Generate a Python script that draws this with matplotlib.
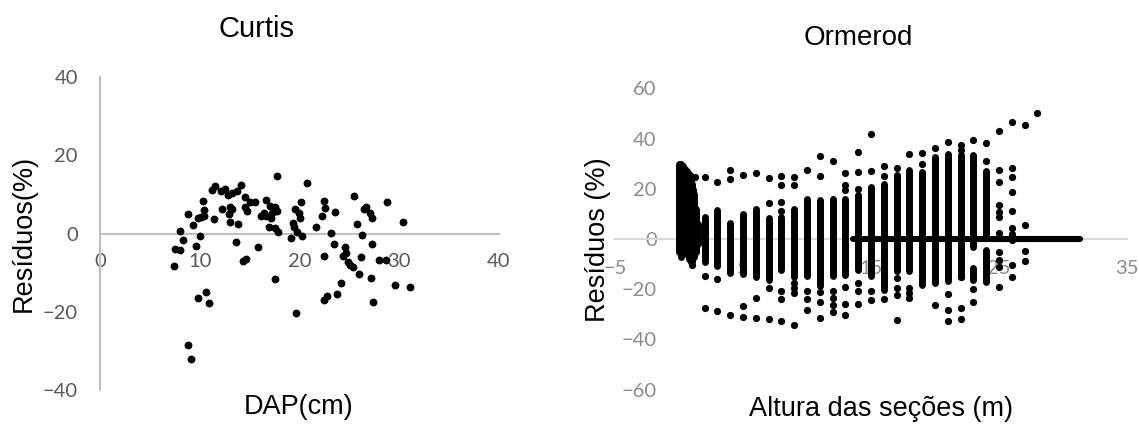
import matplotlib
matplotlib.use('Agg')
import matplotlib.pyplot as plt

# Curtis - residuos (%) x DAP (cm)
curtis_dap = [7.4, 7.5, 8.0, 8.0, 8.3, 8.8, 8.8, 9.1, 9.3, 9.6, 9.8, 9.8, 10.0, 10.1,
              10.3, 10.4, 10.4, 10.6, 10.9, 11.2, 11.4, 11.5, 12.1, 12.2, 12.5, 12.8,
              12.9, 13.0, 13.0, 13.2, 13.2, 13.6, 13.7, 13.8, 14.1, 14.3, 14.6, 14.5,
              14.5, 14.7, 15.0, 15.5, 15.8, 16.1, 16.4, 16.6, 16.6, 16.9, 17.0, 17.1,
              17.2, 17.5, 17.5, 17.5, 17.7, 17.7, 17.8, 19.1, 19.3, 19.4, 19.5, 19.6,
              19.7, 19.9, 20.0, 20.2, 20.3, 20.8, 21.7, 22.3, 22.5, 22.6, 22.5, 22.5,
              22.8, 23.2, 23.5, 23.6, 23.8, 24.2, 24.4, 24.6, 24.7, 24.9, 25.1, 25.4,
              25.5, 25.8, 26.0, 26.2, 26.3, 26.5, 26.7, 27.1, 27.2, 27.3, 27.3, 27.4,
              28.0, 28.7, 28.8, 29.6, 30.4, 31.1]
curtis_res = [-8.2, -3.8, -4.2, 0.8, -1.5, 5.0, -28.3, -32.0, 2.2, -3.2, -16.3, 3.9, -0.6, 4.2,
              8.3, 6.1, 4.4, -15.0, -17.6, 11.2, 3.7, 12.2, 10.9, 6.2, 11.4, 9.9,
              5.0, 6.9, 2.9, 6.2, 10.5, -2.2, 10.8, 2.5, 12.5, -7.0, -6.4, 9.3,
              6.9, 5.9, 8.1, 8.1, -3.5, 4.4, 5.4, 8.6, 4.4, 1.6, 7.1, 3.9,
              5.2, 6.9, -11.5, 1.4, 14.8, 5.9, 0.5, -1.0, 2.8, 1.8, 6.2, -20.2,
              0.5, 5.2, 3.9, 8.2, -0.5, 12.9, 1.8, 4.5, 8.4, 6.5, -5.6, -16.8,
              -15.8, 0.1, -2.6, 5.5, -15.5, -12.7, -5.6, -3.3, -5.0, -7.2, -8.0, -8.6,
              9.7, 2.4, -10.4, -6.0, -0.4, 6.2, 6.7, 5.2, -11.4, -2.6, 4.1, -17.4,
              -6.6, -6.6, 8.2, -13.2, 2.9, -13.7]

# Ormerod - residuos (%) x altura das secoes (m)
# faixas densas de pontos em cada altura (inicio e fim da pilha)
orm_col_x = [0.0, 0.15, 0.3, 0.45, 0.6, 0.75, 0.9, 1.05, 1.2, 1.35, 1.5,
             2, 3, 4, 5, 6, 7, 8, 9, 10, 11, 12, 13, 14, 15, 16, 17, 18, 19,
             20, 21, 22, 23, 23, 24, 24]
orm_col_lo = [-5, -7, -6, -5, -6, -8, -9, -9, -7, -5, -2,
              -9.0, -10.9, -13.6, -14.0, -15.0, -16.2, -12.3, -15.0, -14.9, -18.8, -14.9,
              -14.5, -12.3, -14.9, -20.2, -12.9, -12.9, -18.5,
              -17.5, -16.8, -15.3, -3.0, -16.3, 1.0, -17.0]
orm_col_hi = [30, 30, 29, 28, 27, 26, 25, 22, 18, 12, 6,
              8.8, 11.5, 6.2, 10.0, 12.0, 8.3, 8.8, 12.1, 16.1, 15.4, 16.1,
              16.0, 17.4, 20.7, 22.0, 25.3, 27.3, 26.7,
              32.7, 34.0, 33.5, 33.5, -11.6, 27.2, -4.4]

# pontos isolados
orm_pt_x = [1.25, 1.1, 1.0,
            2, 2, 2, 3, 3, 3, 4, 4, 4, 5, 5, 5, 6, 6, 6,
            7, 7, 7, 7, 8, 8, 8, 8, 8, 8, 8,
            9, 9, 9, 9, 9, 9, 10, 10, 10, 10, 11, 11, 11, 11, 11,
            12, 12, 12, 12, 12, 13, 13, 13, 13, 13, 13,
            14, 14, 14, 14, 14, 14, 15, 15, 15, 15, 16, 16, 16,
            17, 17, 17, 17, 17, 18, 18, 18, 18, 19, 19,
            20, 20, 21, 21, 21, 21, 22, 22, 22, 22, 22, 23, 23, 23, 24, 24,
            25, 25, 25, 25, 25, 25, 25, 25, 25, 25, 25,
            26, 26, 26, 26, 26, 26, 26, 26, 26, 26,
            27, 27, 27, 27, 28]
orm_pt_y = [24.5, 19.4, -10.3,
            24.6, -14.9, -27.4, 22.6, -16.0, -28.7, 27.3, 23.7, -30.4, 25.3, -26.7, -31.2, 26.2, -23.3, -31.6,
            24.1, 14.4, -19.4, -32.0, 24.9, 21.5, 14.8, 11.2, -20.7, -23.9, -32.6,
            24.6, 21.6, -17.5, -19.6, -21.5, -34.4, 27.3, -20.8, -23.8, -28.1, 33.2, 24.9, -21.2, -25.2, -31.4,
            31.0, -20.6, -23.4, -26.1, -29.1, 26.2, 21.5, 19.4, -19.2, -25.8, -30.4,
            34.5, 26.6, 20.0, -17.5, -20.8, -25.7, 42.0, 27.0, -20.8, -24.4, 28.9, 24.9, -24.0,
            28.3, -15.5, -19.4, -22.1, -32.4, 33.9, -19.4, -21.4, -23.4, 34.3, 30.0,
            36.4, -26.3, 38.8, -21.9, -28.3, -32.5, 37.5, 35.5, -27.6, -32.0, -15.3, 39.4, -20.0, -25.2, 38.1, 31.2,
            43.0, 27.5, 22.8, 13.5, 10.9, 8.9, 2.3, -5.1, -8.4, -11.0, -19.2,
            46.6, 28.2, 24.8, 18.8, 11.3, 4.3, 2.0, -0.4, -10.4, -15.0,
            45.4, 5.6, -4.7, -8.6, 50.0]

# linha de residuos nulos (topo das arvores)
orm_zero_start = 13.6
orm_zero_end = 31.3

txt_font = 'Liberation Sans'
tick_font = 'Lato'

fig = plt.figure(figsize=(11.39, 4.24), dpi=100)

W, H = 1139, 424

# ---------- Curtis ----------
ax1 = fig.add_axes([100 / W, (H - 390.4) / H, 399 / W, 313.4 / H])
ax1.scatter(curtis_dap, curtis_res, s=32, color='black', zorder=3, linewidths=0)
ax1.set_xlim(0, 40)
ax1.set_ylim(-40, 40)
ax1.set_xticks([0, 10, 20, 30, 40])
ax1.set_yticks([-40, -20, 0, 20, 40])
ax1.spines['top'].set_visible(False)
ax1.spines['right'].set_visible(False)
ax1.spines['bottom'].set_position(('data', 0))
for sp in ['left', 'bottom']:
    ax1.spines[sp].set_color('#bfbfbf')
    ax1.spines[sp].set_linewidth(1.5)
ax1.tick_params(axis='x', length=0, pad=14, labelsize=14.5, labelcolor='#595959')
ax1.tick_params(axis='y', length=0, pad=16, labelsize=14.5, labelcolor='#595959')
for lab in ax1.get_xticklabels() + ax1.get_yticklabels():
    lab.set_family(tick_font)
ax1.patch.set_alpha(0)

fig.text(256 / W, 1 - 29 / H, 'Curtis', ha='center', va='center',
         fontsize=21, family=txt_font)
fig.text(299 / W, 1 - 407 / H, 'DAP(cm)', ha='center', va='center',
         fontsize=19.5, family=txt_font)
fig.text(24 / W, 1 - 233 / H, 'Resíduos(%)', ha='center', va='center',
         rotation=90, fontsize=19.5, family=txt_font)

# ---------- Ormerod ----------
ax2 = fig.add_axes([615 / W, (H - 389.7) / H, 512 / W, 301.4 / H])
ax2.hlines(0, orm_zero_start, orm_zero_end, color='black', linewidth=4.4,
           capstyle='round', zorder=3)
ax2.vlines(orm_col_x, orm_col_lo, orm_col_hi, color='black', linewidth=5.0,
           capstyle='round', zorder=3)
ax2.scatter(orm_pt_x, orm_pt_y, s=27, color='black', zorder=3, linewidths=0)
ax2.set_xlim(-5, 35)
ax2.set_ylim(-60, 60)
ax2.set_xticks([-5, 5, 15, 25, 35])
ax2.set_yticks([-60, -40, -20, 0, 20, 40, 60])
ax2.spines['top'].set_visible(False)
ax2.spines['right'].set_visible(False)
ax2.spines['left'].set_visible(False)
ax2.spines['bottom'].set_position(('data', 0))
ax2.spines['bottom'].set_color('#d9d9d9')
ax2.spines['bottom'].set_linewidth(1.5)
ax2.tick_params(axis='x', length=0, pad=15, labelsize=14.5, labelcolor='#8c8c8c')
ax2.tick_params(axis='y', length=0, pad=-30, labelsize=14.5, labelcolor='#8c8c8c')
for lab in ax2.get_xticklabels() + ax2.get_yticklabels():
    lab.set_family(tick_font)
ax2.patch.set_alpha(0)

fig.text(858 / W, 1 - 38 / H, 'Ormerod', ha='center', va='center',
         fontsize=20, family=txt_font)
fig.text(881 / W, 1 - 409 / H, 'Altura das seções (m)', ha='center', va='center',
         fontsize=19.5, family=txt_font)
fig.text(598 / W, 1 - 240 / H, 'Resíduos (%)', ha='center', va='center',
         rotation=90, fontsize=19.5, family=txt_font)

fig.savefig('out.png', dpi=100)
